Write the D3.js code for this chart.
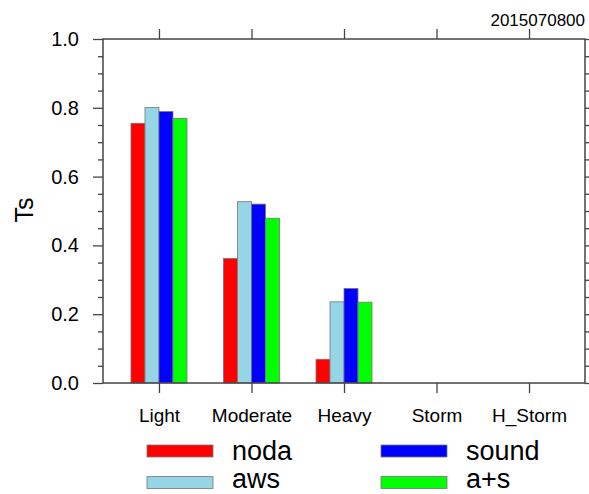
<!DOCTYPE html>
<html>
<head>
<meta charset="utf-8">
<script src="https://cdn.jsdelivr.net/npm/d3@7"></script>
<style>
  body { margin: 0; background: #fff; }
  svg { display: block; font-family: "Liberation Sans", Arial, sans-serif; }
</style>
</head>
<body>
<svg id="chart" width="589" height="494"></svg>
<script>
const categories = ['Light', 'Moderate', 'Heavy', 'Storm', 'H_Storm'];
const seriesNames = ['noda', 'aws', 'sound', 'a+s'];
const noda  = [0.755, 0.362, 0.069, 0, 0];
const aws   = [0.801, 0.527, 0.236, 0, 0];
const sound = [0.789, 0.520, 0.275, 0, 0];
const aps   = [0.769, 0.479, 0.235, 0, 0];
const yMajor = [0, 0.2, 0.4, 0.6, 0.8, 1.0];
const yMinor = d3.range(0, 1.0001, 0.05);
const colors = ['#ff0000', '#95d5e6', '#0000ff', '#00ff00'];
const title = '2015070800';

const series = [noda, aws, sound, aps];

const svg = d3.select('#chart');
const pL = 103, pR = 585, pT = 39, pB = 383;

const x = d3.scaleLinear().domain([-0.605, categories.length - 1 + 0.605]).range([pL, pR]);
const y = d3.scaleLinear().domain([0, 1]).range([pB, pT]);
const inner = d3.scaleBand().domain(seriesNames).range([-28, 28]);

// bars
const g = svg.append('g');
series.forEach((vals, s) => {
    g.selectAll(null).data(vals.map((v, i) => ({v, i})).filter(d => d.v > 0))
        .enter().append('rect')
        .attr('x', d => x(d.i) + inner(seriesNames[s]))
        .attr('y', d => y(d.v))
        .attr('width', inner.bandwidth())
        .attr('height', d => y(0) - y(d.v))
        .attr('fill', colors[s])
        .attr('stroke', '#777')
        .attr('stroke-width', 0.8);
});

// axes
const fmt = d3.format('.1f');
const minorVals = yMinor.filter(v => Math.round(v * 100) % 20);
const axL = svg.append('g').attr('transform', `translate(${pL},0)`)
    .call(d3.axisLeft(y).tickValues(yMajor).tickFormat(fmt).tickSize(10).tickPadding(14));
svg.append('g').attr('transform', `translate(${pR},0)`)
    .call(d3.axisRight(y).tickValues(yMajor).tickFormat('').tickSize(5));
svg.append('g').attr('transform', `translate(${pL},0)`)
    .call(d3.axisLeft(y).tickValues(minorVals).tickFormat('').tickSize(5));
svg.append('g').attr('transform', `translate(${pR},0)`)
    .call(d3.axisRight(y).tickValues(minorVals).tickFormat('').tickSize(4));
const ticksX = d3.range(categories.length);
const axB = svg.append('g').attr('transform', `translate(0,${pB})`)
    .call(d3.axisBottom(x).tickValues(ticksX).tickFormat(i => categories[i]).tickSize(10).tickPadding(16));
svg.append('g').attr('transform', `translate(0,${pT})`)
    .call(d3.axisTop(x).tickValues(ticksX).tickFormat('').tickSize(10));

svg.selectAll('.domain').remove();
svg.selectAll('.tick line').attr('stroke', '#444').attr('stroke-width', 1.3);
axL.selectAll('text').attr('font-size', 20).attr('fill', '#000')
    .attr('font-family', '"Liberation Sans", Arial, sans-serif');
axB.selectAll('text').attr('font-size', 19).attr('fill', '#000')
    .attr('font-family', '"Liberation Sans", Arial, sans-serif');

// frame
svg.append('rect').attr('x', pL).attr('y', pT)
    .attr('width', pR - pL).attr('height', pB - pT)
    .attr('fill', 'none').attr('stroke', '#444').attr('stroke-width', 1.5);

// y title
svg.append('text').attr('transform', 'translate(33,210) rotate(-90)')
    .attr('text-anchor', 'middle').attr('font-size', 25).text('Ts');

// title
svg.append('text').attr('x', 585).attr('y', 26).attr('text-anchor', 'end')
    .attr('font-size', 17).text(title);

// legend
const legPos = [[147, 451, 460], [147, 482.5, 487.5], [381, 451, 460], [381, 482.5, 487.5]];
const leg = svg.append('g').selectAll('g').data(seriesNames).enter().append('g')
    .attr('transform', (d, i) => `translate(${legPos[i][0]},0)`);
leg.append('rect').attr('x', 0).attr('y', (d, i) => legPos[i][1] - 6).attr('width', 66).attr('height', 12)
    .attr('fill', (d, i) => colors[i]).attr('stroke', '#777').attr('stroke-width', 0.8);
leg.append('text').attr('x', 85).attr('y', (d, i) => legPos[i][2]).attr('font-size', 27).text(d => d);
</script>
</body>
</html>
